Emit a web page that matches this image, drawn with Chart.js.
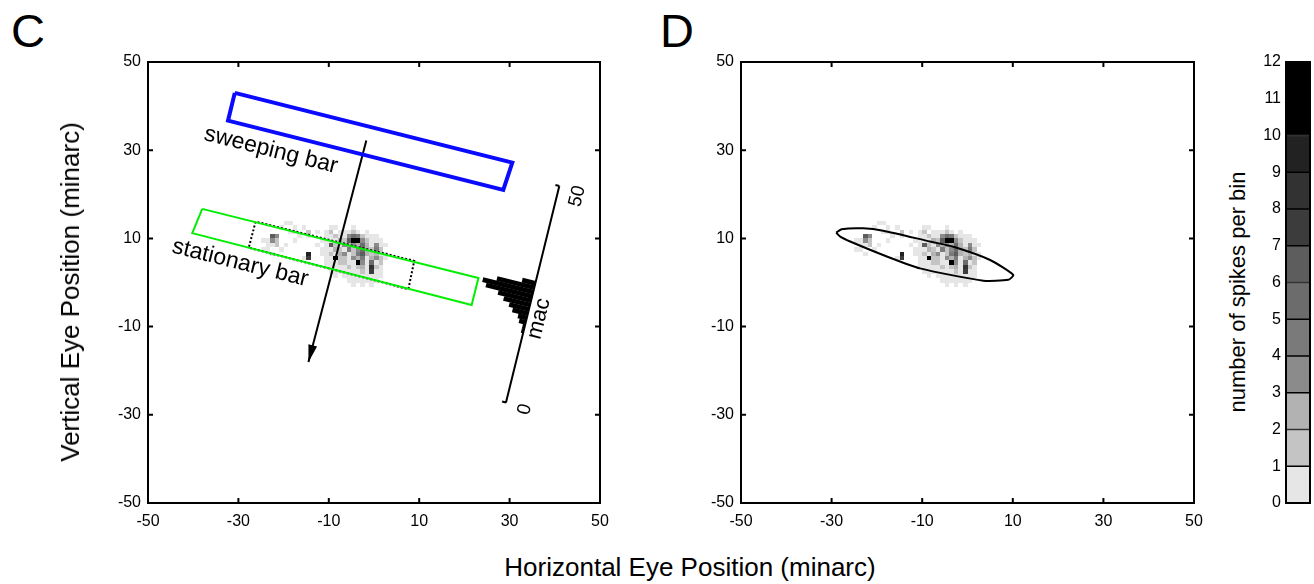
<!DOCTYPE html>
<html>
<head>
<meta charset="utf-8">
<script src="https://cdn.jsdelivr.net/npm/chart.js@4.4.1/dist/chart.umd.min.js"></script>
<style>
  body { margin: 0; background: #fff; width: 1314px; height: 584px; position: relative; overflow: hidden;
         font-family: 'Liberation Sans', Arial, sans-serif; color: #000; }
  canvas { position: absolute; }
  #panelC { left: 0; top: 40px; }
  #panelD { left: 690px; top: 40px; }
  #scaleBar { left: 1262px; top: 40px; }
  .letter { position: absolute; top: 7px; font-size: 47px; line-height: 1; }
  .vtitle { position: absolute; white-space: nowrap; line-height: 1; transform: translate(-50%, -50%) rotate(-90deg); }
  #yTitle { left: 70px; top: 292px; font-size: 26px; }
  #scaleTitle { left: 1238px; top: 292px; font-size: 22px; }
  #xTitle { position: absolute; left: 440px; width: 500px; top: 554px; text-align: center; font-size: 26px; line-height: 1; }
</style>
</head>
<body>
<div class="letter" style="left: 11px;">C</div>
<div class="letter" style="left: 660px;">D</div>
<canvas id="panelC" width="620" height="500"></canvas>
<canvas id="panelD" width="524" height="500"></canvas>
<canvas id="scaleBar" width="52" height="500"></canvas>
<div class="vtitle" id="yTitle">Vertical Eye Position (minarc)</div>
<div class="vtitle" id="scaleTitle">number of spikes per bin</div>
<div id="xTitle">Horizontal Eye Position (minarc)</div>

<script>
const FONT = "'Liberation Sans', Arial, sans-serif";
Chart.defaults.font.family = FONT;
Chart.defaults.color = '#000';

// colour scale: boundaries (spikes per bin) and the grey of each band
const shadeLevels = [0, 1, 2, 3, 4, 5, 6, 7, 8, 9, 10, 12];
const shadeColors = ['#e6e6e6', '#c4c4c4', '#b2b2b2', '#8b8b8b', '#7a7a7a', '#6c6c6c',
                     '#5d5d5d', '#3c3c3c', '#323232', '#222222', '#000000'];

// spike map in 1 minarc bins, one row per vertical bin:
// left edge of each occupied bin and its spike count
const binRows = [13, 12, 11, 10, 9, 8, 7, 6, 5, 4, 3, 2, 1, 0, -1];
const binRowX = [
  [-20, -19],
  [-21, -18, -16, -10, -9, -5],
  [-19, -18, -15, -13, -11, -10, -8, -7, -6, -5, -4, -2],
  [-23, -22, -17, -15, -11, -10, -9, -8, -7, -6, -5, -4, -3, -2, -1, 0],
  [-25, -24, -23, -22, -18, -12, -11, -10, -9, -8, -7, -6, -5, -4, -3, -2, -1, 0, 1],
  [-24, -23, -22, -20, -13, -11, -10, -9, -8, -7, -6, -5, -4, -3, -2, -1, 0, 1, 2],
  [-25, -24, -21, -12, -11, -10, -9, -8, -7, -6, -5, -4, -3, -2, -1, 0, 1],
  [-23, -15, -12, -11, -10, -9, -8, -7, -6, -5, -4, -3, -2, -1, 0, 1, 2],
  [-16, -15, -11, -10, -9, -8, -7, -6, -5, -4, -3, -2, -1, 0, 1, 2],
  [-11, -10, -9, -8, -7, -6, -5, -4, -3, -2, -1, 0, 1],
  [-11, -10, -9, -8, -7, -6, -5, -4, -3, -2, -1, 0, 1],
  [-10, -9, -8, -7, -6, -5, -4, -3, -2, -1, 0, 1],
  [-9, -7, -6, -5, -4, -3, -2, -1, 0, 1],
  [-6, -5, -4, -3, -2, -1, 0],
  [-5, -3, -1]
];
const binRowCount = [
  [1, 1],
  [1, 1, 1, 1, 1, 1],
  [1, 1, 2, 1, 1, 2, 1, 1, 1, 2, 1, 1],
  [7, 4, 1, 1, 1, 1, 2, 1, 1, 4, 6, 5, 2, 1, 1, 1],
  [1, 1, 4, 2, 1, 1, 1, 1, 1, 3, 2, 7, 11, 12, 4, 2, 1, 1, 1],
  [1, 1, 2, 1, 1, 1, 7, 2, 1, 4, 3, 4, 3, 6, 3, 1, 4, 1, 1],
  [1, 1, 1, 1, 1, 1, 3, 2, 1, 5, 2, 4, 6, 3, 2, 5, 2],
  [1, 10, 1, 1, 2, 1, 3, 4, 1, 2, 5, 7, 3, 2, 3, 1, 1],
  [1, 8, 1, 1, 12, 2, 2, 1, 4, 3, 5, 1, 3, 4, 2, 1],
  [1, 1, 1, 2, 2, 1, 1, 12, 4, 1, 6, 1, 2],
  [1, 1, 1, 1, 1, 2, 1, 2, 3, 1, 9, 2, 1],
  [1, 1, 1, 1, 1, 1, 1, 2, 1, 8, 1, 1],
  [1, 1, 1, 1, 1, 1, 1, 1, 1, 1],
  [1, 1, 1, 1, 1, 1, 1],
  [1, 1, 1]
];

// sweeping bar outline (minarc)
const sweepX = [-30.8, -32.3, 28.6, 30.6, -30.8];
const sweepY = [43.0, 36.7, 21.0, 27.2, 43.0];
// stationary bar outline
const stationX = [-38.0, -40.2, 21.6, 23.1, -38.0];
const stationY = [16.7, 11.2, -5.1, 1.0, 16.7];
// receptive field estimate (dotted)
const fieldX = [-26.2, -27.7, 7.6, 8.9, -26.2];
const fieldY = [13.8, 7.9, -1.5, 4.9, 13.8];
// sweep direction
const arrowX = [-1.7, -14.5];
const arrowY = [32.2, -18.0];

// response histogram along the sweep axis (0..50 minarc)
const histAxisX = [29.2, 41.0];
const histAxisY = [-27.2, 21.9];
const histAxisMax = 50;
const histBins = [16, 17, 18, 19, 20, 21, 22, 23, 24, 25, 26, 27];
const histCounts = [1, 1, 3, 4, 7, 9, 12, 15, 21, 23, 17, 6];
const HIST_SCALE = 0.5; // minarc of bar length per spike

// response field contour
const contourX = [-29.0, -27.8, -23.0, -18.6, -8.3, -3.1, 5.0, 10.1, 9.0, 3.5, -10.5, -17.8, -25.9, -28.1, -29.0];
const contourY = [11.3, 12.1, 12.3, 11.75, 9.3, 8.1, 5.1, 1.7, 0.6, 0.4, 3.2, 5.9, 9.3, 10.4, 11.3];

const eyeTicks = [-50, -30, -10, 10, 30, 50];

const toPoints = (xs, ys) => xs.map((x, i) => ({ x, y: ys[i] }));

function shadeFor(count) {
  for (let i = 0; i < shadeColors.length; i++) {
    if (count <= shadeLevels[i + 1]) return shadeColors[i];
  }
  return shadeColors[shadeColors.length - 1];
}

// grey spike bins, under the outlines
const spikeMapPlugin = {
  id: 'spikeMap',
  beforeDatasetsDraw(chart) {
    const { ctx, scales: { x, y } } = chart;
    ctx.save();
    binRows.forEach((row, r) => {
      const y0 = Math.round(y.getPixelForValue(row + 1));
      const y1 = Math.round(y.getPixelForValue(row));
      binRowX[r].forEach((bx, i) => {
        const x0 = Math.round(x.getPixelForValue(bx));
        const x1 = Math.round(x.getPixelForValue(bx + 1));
        ctx.fillStyle = shadeFor(binRowCount[r][i]);
        ctx.fillRect(x0, y0, x1 - x0, y1 - y0);
      });
    });
    ctx.restore();
  }
};

// box around the plot with inward ticks on all four sides
const framePlugin = {
  id: 'frame',
  afterDraw(chart, args, opts) {
    const { ctx, chartArea: a, scales } = chart;
    ctx.save();
    ctx.strokeStyle = '#000';
    ctx.lineWidth = 2;
    ctx.strokeRect(a.left, a.top, a.right - a.left, a.bottom - a.top);
    if (opts.ticks) {
      ctx.beginPath();
      eyeTicks.slice(1, -1).forEach(v => {
        const px = scales.x.getPixelForValue(v);
        const py = scales.y.getPixelForValue(v);
        ctx.moveTo(px, a.bottom); ctx.lineTo(px, a.bottom - 5);
        ctx.moveTo(px, a.top); ctx.lineTo(px, a.top + 5);
        ctx.moveTo(a.left, py); ctx.lineTo(a.left + 5, py);
        ctx.moveTo(a.right, py); ctx.lineTo(a.right - 5, py);
      });
      ctx.stroke();
    }
    ctx.restore();
  }
};

// arrowhead at the end of the sweep line, bar names and the rotated histogram
const sweepDecorPlugin = {
  id: 'sweepDecor',
  afterDatasetsDraw(chart) {
    const { ctx, scales: { x, y } } = chart;
    const px = (dx, dy) => [x.getPixelForValue(dx), y.getPixelForValue(dy)];
    ctx.save();

    // arrowhead
    const a0 = px(arrowX[0], arrowY[0]);
    const a1 = px(arrowX[1], arrowY[1]);
    const al = Math.hypot(a1[0] - a0[0], a1[1] - a0[1]);
    const au = [(a1[0] - a0[0]) / al, (a1[1] - a0[1]) / al];
    const an = [au[1], -au[0]];
    ctx.fillStyle = '#000';
    ctx.beginPath();
    ctx.moveTo(a1[0], a1[1]);
    ctx.lineTo(a1[0] - au[0] * 17 + an[0] * 4.5, a1[1] - au[1] * 17 + an[1] * 4.5);
    ctx.lineTo(a1[0] - au[0] * 17 - an[0] * 4.5, a1[1] - au[1] * 17 - an[1] * 4.5);
    ctx.closePath();
    ctx.fill();

    // bar names, parallel to the bars
    ctx.font = '23px ' + FONT;
    ctx.textAlign = 'center';
    ctx.textBaseline = 'middle';
    [[sweepX, sweepY, 'sweeping bar', -22.8, 30.0], [stationX, stationY, 'stationary bar', -29.6, 4.4]]
      .forEach(([xs, ys, text, lx, ly]) => {
        const p = px(xs[0], ys[0]);
        const q = px(xs[3], ys[3]);
        const c = px(lx, ly);
        ctx.save();
        ctx.translate(c[0], c[1]);
        ctx.rotate(Math.atan2(q[1] - p[1], q[0] - p[0]));
        ctx.fillText(text, 0, 0);
        ctx.restore();
      });

    // histogram axis
    const h0 = px(histAxisX[0], histAxisY[0]);
    const h1 = px(histAxisX[1], histAxisY[1]);
    const hl = Math.hypot(h1[0] - h0[0], h1[1] - h0[1]);
    const u = [(h1[0] - h0[0]) / hl, (h1[1] - h0[1]) / hl];
    const n = [u[1], -u[0]]; // towards the left of the axis
    const along = (t, off = 0) => [h0[0] + u[0] * hl * t / histAxisMax + n[0] * off,
                                   h0[1] + u[1] * hl * t / histAxisMax + n[1] * off];
    const unit = Math.abs(x.getPixelForValue(1) - x.getPixelForValue(0));

    histBins.forEach((b, i) => {
      const len = histCounts[i] * HIST_SCALE * unit;
      const s = along(b - 0.03), e = along(b + 1.03);
      const se = along(b - 0.03, len), ee = along(b + 1.03, len);
      ctx.beginPath();
      ctx.moveTo(s[0], s[1]); ctx.lineTo(e[0], e[1]);
      ctx.lineTo(ee[0], ee[1]); ctx.lineTo(se[0], se[1]);
      ctx.closePath();
      ctx.fill();
    });

    ctx.strokeStyle = '#000';
    ctx.lineWidth = 2;
    ctx.beginPath();
    ctx.moveTo(h0[0], h0[1]); ctx.lineTo(h1[0], h1[1]);
    const t0 = along(0, 4), t1 = along(histAxisMax, 4);
    ctx.moveTo(h0[0], h0[1]); ctx.lineTo(t0[0], t0[1]);
    ctx.moveTo(h1[0], h1[1]); ctx.lineTo(t1[0], t1[1]);
    ctx.stroke();

    const angle = Math.atan2(u[1], u[0]);
    [['0', -0.5, -20, 19], ['50', histAxisMax - 1.3, -20, 19], ['mac', 20, -12, 22]]
      .forEach(([text, t, off, size]) => {
        const p = along(t, off);
        ctx.save();
        ctx.translate(p[0], p[1]);
        ctx.rotate(angle);
        ctx.font = size + 'px ' + FONT;
        ctx.fillText(text, 0, 0);
        ctx.restore();
      });
    ctx.restore();
  }
};

function eyeScales(yWidth) {
  const common = {
    type: 'linear', min: -50, max: 50,
    grid: { display: false, drawTicks: false },
    border: { display: false }
  };
  return {
    x: { ...common, ticks: { stepSize: 20, padding: 9, maxRotation: 0, font: { size: 16 } },
         afterFit: s => { s.height = 37; } },
    y: { ...common, ticks: { stepSize: 20, padding: 7, font: { size: 16 } },
         afterFit: s => { s.width = yWidth; } }
  };
}

function outline(xs, ys, color, width, dash) {
  return {
    data: toPoints(xs, ys), showLine: true, fill: false,
    borderColor: color, borderWidth: width, borderDash: dash || [],
    borderJoinStyle: 'miter', pointRadius: 0, pointHoverRadius: 0
  };
}

const baseOptions = {
  responsive: false, animation: false, events: [],
  plugins: { legend: { display: false }, tooltip: { enabled: false }, frame: { ticks: true } }
};

// panel C: bars, sweep and histogram
new Chart(document.getElementById('panelC'), {
  type: 'scatter',
  data: {
    datasets: [
      outline(sweepX, sweepY, '#0a0aff', 4),
      outline(stationX, stationY, '#00ee00', 2),
      outline(fieldX, fieldY, '#000', 2, [2, 2]),
      outline(arrowX, arrowY, '#000', 2)
    ]
  },
  options: {
    ...baseOptions,
    layout: { padding: { top: 22, right: 20, bottom: 0, left: 0 } },
    scales: eyeScales(148)
  },
  plugins: [spikeMapPlugin, framePlugin, sweepDecorPlugin]
});

// panel D: spike map with the fitted contour
new Chart(document.getElementById('panelD'), {
  type: 'scatter',
  data: {
    datasets: [ { ...outline(contourX, contourY, '#000', 2), tension: 0.2 } ]
  },
  options: {
    ...baseOptions,
    layout: { padding: { top: 22, right: 20, bottom: 0, left: 0 } },
    scales: eyeScales(51)
  },
  plugins: [spikeMapPlugin, framePlugin]
});

// colour scale
new Chart(document.getElementById('scaleBar'), {
  type: 'bar',
  data: {
    labels: [''],
    datasets: shadeColors.map((c, i) => ({
      data: [[shadeLevels[i], shadeLevels[i + 1]]],
      backgroundColor: c, borderColor: '#000', borderWidth: 1, borderSkipped: false,
      barPercentage: 1, categoryPercentage: 1, grouped: false
    }))
  },
  options: {
    responsive: false, animation: false, events: [],
    layout: { padding: { top: 22, right: 4, bottom: 37, left: 0 } },
    plugins: { legend: { display: false }, tooltip: { enabled: false }, frame: { ticks: false } },
    scales: {
      x: { display: false },
      y: {
        min: 0, max: 12,
        ticks: { stepSize: 1, padding: 5, font: { size: 16 } },
        grid: { display: false, drawTicks: false },
        border: { display: false },
        afterFit: s => { s.width = 24; }
      }
    }
  },
  plugins: [framePlugin]
});
</script>
</body>
</html>
